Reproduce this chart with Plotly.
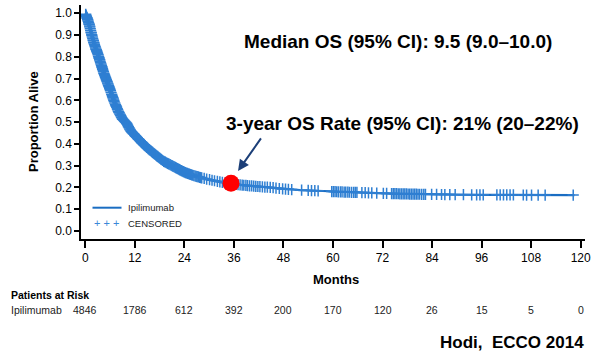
import numpy as np
import plotly.graph_objects as go

# ---------------- data ----------------
months = [0, 0.5, 1, 1.5, 2, 2.5, 3, 3.5, 4, 4.5, 5, 5.5, 6, 7, 8, 9, 10, 11, 12, 13, 14,
          15, 16, 17, 18, 19, 20, 21, 22, 23, 24, 26, 28, 30, 32, 34, 36, 39, 42, 45, 48,
          52, 56, 60, 64, 68, 72, 76, 80, 84, 90, 96, 102, 108, 114, 118.5]
survival = [1.0, 0.975, 0.945, 0.905, 0.87, 0.84, 0.815, 0.785, 0.755, 0.725, 0.70, 0.675,
            0.65, 0.595, 0.55, 0.515, 0.495, 0.46, 0.44, 0.42, 0.40, 0.382, 0.366, 0.35,
            0.335, 0.32, 0.31, 0.30, 0.29, 0.28, 0.27, 0.256, 0.245, 0.236, 0.228, 0.221,
            0.215, 0.209, 0.204, 0.20, 0.193, 0.188, 0.185, 0.181, 0.178, 0.176, 0.173,
            0.171, 0.169, 0.168, 0.167, 0.166, 0.166, 0.165, 0.165, 0.165]

censored_months = [
    0.1, 0.2, 0.3, 0.4, 0.45, 0.55, 0.6, 0.7, 0.8, 0.9, 0.95, 1.05, 1.1, 1.2, 1.3, 1.4,
    1.45, 1.55, 1.6, 1.7, 1.8, 1.9, 1.95, 2.05, 2.1, 2.2, 2.3, 2.4, 2.5, 2.6, 2.65, 2.75,
    2.8, 2.9, 3.0, 3.1, 3.2, 3.3, 3.35, 3.45, 3.5, 3.6, 3.7, 3.8, 3.9, 4.0, 4.05, 4.15,
    4.2, 4.3, 4.4, 4.5, 4.6, 4.7, 4.8, 4.9, 5.0, 5.1, 5.2, 5.3, 5.4, 5.5, 5.6, 5.7, 5.8,
    5.9, 6.0, 6.1, 6.25, 6.4, 6.5, 6.6, 6.7, 6.8, 6.9, 7.0, 7.15, 7.3, 7.4, 7.5, 7.6,
    7.75, 7.85, 8.0, 8.1, 8.2, 8.35, 8.5, 8.6, 8.75, 8.85, 9.0, 9.1, 9.25, 9.4, 9.55, 9.7,
    9.85, 10.0, 10.15, 10.3, 10.45, 10.6, 10.75, 10.9, 11.05, 11.2, 11.35, 11.5, 11.65,
    11.8, 11.95, 12.1, 12.25, 12.4, 12.6, 12.8, 12.95, 13.1, 13.3, 13.5, 13.65, 13.8, 14.0,
    14.2, 14.35, 14.5, 14.7, 14.9, 15.1, 15.3, 15.5, 15.7, 15.9, 16.1, 16.3, 16.5, 16.7,
    16.9, 17.1, 17.3, 17.5, 17.7, 17.9, 18.1, 18.3, 18.5, 18.75, 19.0, 19.2, 19.4, 19.65,
    19.9, 20.1, 20.3, 20.55, 20.8, 21.0, 21.2, 21.45, 21.7, 21.9, 22.1, 22.35, 22.6, 22.8,
    23.0, 23.25, 23.5, 23.75, 24.0, 24.25, 24.5, 24.75, 25.0, 25.25, 25.5, 25.75, 26.0,
    26.3, 26.6, 26.85, 27.1, 27.4, 27.7, 27.95, 28.2, 28.8, 29.4, 30.1, 30.7, 31.3, 32.0,
    32.6, 33.2, 33.9, 34.6, 35.3, 36.0, 36.5, 37.0, 37.5, 38.0, 38.4, 38.9, 39.3, 39.8,
    40.3, 40.8, 41.3, 41.8, 42.3, 42.9, 43.5, 44.1, 44.8, 45.5, 46.2, 47.0, 47.8, 48.5,
    49.2, 50.0, 52.4, 54.0, 54.8, 55.6, 56.4, 59.7, 60.1, 60.5, 60.9, 61.3, 61.8, 62.2,
    62.7, 63.1, 63.6, 64.0, 64.5, 65.0, 65.4, 65.8, 67.0, 67.8, 68.6, 69.4, 70.6, 72.2,
    73.0, 74.2, 74.6, 75.0, 75.4, 75.8, 76.2, 76.6, 77.0, 77.4, 77.8, 78.2, 78.6, 79.0,
    79.4, 79.8, 80.2, 80.6, 81.0, 81.5, 82.0, 82.4, 83.9, 85.1, 86.3, 87.1, 88.3, 89.6,
    91.6, 93.6, 94.8, 95.6, 96.4, 99.7, 100.5, 101.3, 102.1, 102.9, 103.7, 106.1, 106.9,
    108.1, 109.7, 111.4, 118.2]

highlight_month = [35.3]
highlight_rate = [0.219]

risk_months = [0, 12, 24, 36, 48, 60, 72, 84, 96, 108, 120]
risk_counts = [4846, 1786, 612, 392, 200, 170, 120, 26, 15, 5, 0]

y_ticks = [0.0, 0.1, 0.2, 0.3, 0.4, 0.5, 0.6, 0.7, 0.8, 0.9, 1.0]
x_ticks = [0, 12, 24, 36, 48, 60, 72, 84, 96, 108, 120]

# ---------------- layout helpers ----------------
W, H = 600, 355
L, R, T, B = 81, 585, 5, 239
PW, PH = R - L, B - T
FONT = "Liberation Sans, Arial, sans-serif"
LINE_BLUE = "#1a6dc2"
MARK_BLUE = "#2f7fd2"


def px_x(p):
    return (p - L) / PW


def px_y(p):
    return (B - p) / PH


censor_y = np.interp(censored_months, months, survival)

fig = go.Figure()
fig.add_trace(go.Scatter(x=months, y=survival, mode="lines",
                         line=dict(color=LINE_BLUE, width=2.2), showlegend=False,
                         hoverinfo="skip"))
fig.add_trace(go.Scatter(x=censored_months, y=censor_y, mode="markers",
                         marker=dict(symbol="cross-thin", size=8,
                                     line=dict(color=MARK_BLUE, width=1.5)),
                         showlegend=False, hoverinfo="skip"))
fig.add_trace(go.Scatter(x=highlight_month, y=highlight_rate, mode="markers",
                         marker=dict(color="#ff0000", size=17, line=dict(width=0)),
                         showlegend=False, hoverinfo="skip"))

ann = []
ann.append(dict(text="<b>Median OS (95% CI): 9.5 (9.0–10.0)</b>", x=px_x(398), y=px_y(41.7),
                xref="paper", yref="paper", xanchor="center", yanchor="middle",
                showarrow=False, font=dict(size=19, color="black", family=FONT)))
ann.append(dict(text="<b>3-year OS Rate (95% CI): 21% (20–22%)</b>", x=px_x(402),
                y=px_y(123.3), xref="paper", yref="paper", xanchor="center",
                yanchor="middle", showarrow=False,
                font=dict(size=19, color="black", family=FONT)))
# arrow
ann.append(dict(text="", x=37.0, y=0.276, xref="x", yref="y", ax=24, ay=-34,
                showarrow=True, arrowhead=2, arrowsize=1.1, arrowwidth=2,
                arrowcolor="#1c3f78"))
ann.append(dict(text="<b>Proportion Alive</b>", x=px_x(33), y=px_y(122), xref="paper",
                yref="paper", textangle=-90, xanchor="center", yanchor="middle",
                showarrow=False, font=dict(size=13, color="black", family=FONT)))
ann.append(dict(text="<b>Months</b>", x=px_x(336), y=px_y(279), xref="paper",
                yref="paper", xanchor="center", yanchor="middle", showarrow=False,
                font=dict(size=13, color="black", family=FONT)))
ann.append(dict(text="<b>Patients at Risk</b>", x=px_x(9), y=px_y(295), xref="paper",
                yref="paper", xanchor="left", yanchor="middle", showarrow=False,
                font=dict(size=10.5, color="black", family=FONT)))
ann.append(dict(text="Ipilimumab", x=px_x(9), y=px_y(309.5), xref="paper", yref="paper",
                xanchor="left", yanchor="middle", showarrow=False,
                font=dict(size=10.5, color="#222", family=FONT)))
for m, c in zip(risk_months, risk_counts):
    ann.append(dict(text=str(c), x=m, y=px_y(309.5), xref="x", yref="paper",
                    xanchor="center", yanchor="middle", showarrow=False,
                    font=dict(size=10.5, color="#222", family=FONT)))
ann.append(dict(text="<b>Hodi,  ECCO 2014</b>", x=px_x(586), y=px_y(342), xref="paper",
                yref="paper", xanchor="right", yanchor="middle", showarrow=False,
                font=dict(size=17, color="black", family=FONT)))
# legend
ann.append(dict(text="Ipilimumab", x=px_x(126), y=px_y(207.7), xref="paper", yref="paper",
                xanchor="left", yanchor="middle", showarrow=False,
                font=dict(size=9.5, color="#222", family=FONT)))
ann.append(dict(text="CENSORED", x=px_x(126), y=px_y(223.3), xref="paper", yref="paper",
                xanchor="left", yanchor="middle", showarrow=False,
                font=dict(size=9.5, color="#222", family=FONT)))
ann.append(dict(text="+ + +", x=px_x(106.5), y=px_y(223.3), xref="paper", yref="paper",
                xanchor="center", yanchor="middle", showarrow=False,
                font=dict(size=11, color="#3a88d8", family=FONT)))

shapes = [dict(type="line", xref="paper", yref="paper", x0=px_x(92.5), x1=px_x(121.5),
               y0=px_y(207.7), y1=px_y(207.7), line=dict(color=LINE_BLUE, width=2))]

fig.update_layout(
    width=W, height=H,
    margin=dict(l=L, r=W - R, t=T, b=H - B, pad=0),
    paper_bgcolor="white", plot_bgcolor="white",
    annotations=ann, shapes=shapes, showlegend=False,
    font=dict(family=FONT, color="black"),
    xaxis=dict(range=[-1.04, 121.05], tickvals=x_ticks, ticks="outside", ticklen=7,
               tickwidth=2, tickcolor="black", showline=True, linecolor="black",
               linewidth=1.5, showgrid=False, zeroline=False,
               tickfont=dict(size=12, color="black", family=FONT)),
    yaxis=dict(range=[-0.0367, 1.038], tickvals=y_ticks,
               ticktext=[f"{v:.1f}" for v in y_ticks], ticks="outside", ticklen=5,
               tickwidth=1.5, tickcolor="black", showline=True, linecolor="black",
               linewidth=1.5, showgrid=False, zeroline=False,
               tickfont=dict(size=12, color="black", family=FONT)),
)

fig.write_html(
    "out.html",
    config={"displayModeBar": False},
    post_script="document.body.style.margin='0';document.body.style.overflow='hidden';",
)
